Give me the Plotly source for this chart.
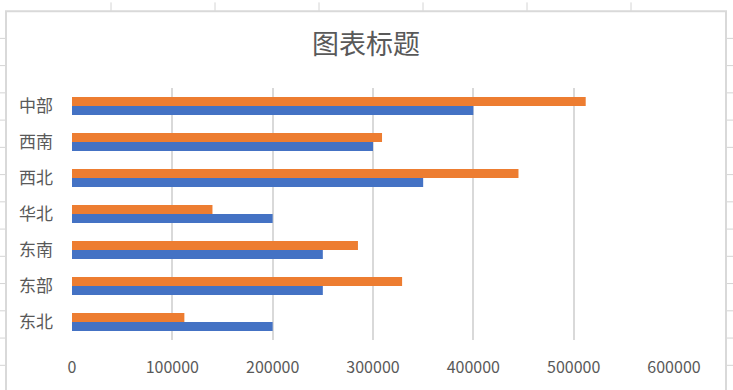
import plotly.graph_objects as go

categories = ["东北", "东部", "东南", "华北", "西北", "西南", "中部"]
series1 = [200000, 250000, 250000, 200000, 350000, 300000, 400000]
series2 = [112000, 329000, 285000, 140000, 445000, 309000, 512000]
x_ticks = [0, 100000, 200000, 300000, 400000, 500000, 600000]
title_text = "图表标题"

W, H = 733, 390
L, R, T, B = 72, 59, 88, 43
PW, PH = W - L - R, H - T - B

def px(x):
    return (x - L) / PW

def py(y):
    return (H - B - y) / PH

font = "Noto Sans CJK SC, Noto Sans, sans-serif"
grey = "#595959"

fig = go.Figure()
fig.add_trace(go.Bar(y=categories, x=series1, orientation="h", name="系列1",
                     marker=dict(color="#4472C4", line=dict(width=0))))
fig.add_trace(go.Bar(y=categories, x=series2, orientation="h", name="系列2",
                     marker=dict(color="#ED7D31", line=dict(width=0))))

shapes = []
cell = "#d4d4d4"
for cx in [111, 215, 319, 423, 527, 631]:
    shapes.append(dict(type="line", xref="paper", yref="paper", layer="below",
                       x0=px(cx), x1=px(cx), y0=py(0), y1=py(9),
                       line=dict(color=cell, width=1)))
for k in range(13):
    ry = 37 + 28 * k
    shapes.append(dict(type="line", xref="paper", yref="paper", layer="below",
                       x0=px(0), x1=px(6), y0=py(ry), y1=py(ry),
                       line=dict(color=cell, width=1)))
    shapes.append(dict(type="line", xref="paper", yref="paper", layer="below",
                       x0=px(726), x1=px(733), y0=py(ry), y1=py(ry),
                       line=dict(color=cell, width=1)))
shapes.append(dict(type="rect", xref="paper", yref="paper", layer="below",
                   x0=px(6), x1=px(726), y0=py(9), y1=py(400),
                   line=dict(color="#d9d9d9", width=2), fillcolor="white"))

fig.update_layout(
    width=W, height=H,
    margin=dict(l=L, r=R, t=T, b=B, pad=0),
    paper_bgcolor="white", plot_bgcolor="rgba(0,0,0,0)",
    barmode="group", bargap=0.5, bargroupgap=0,
    showlegend=False,
    shapes=shapes,
    font=dict(family=font, color=grey, size=16),
    annotations=[dict(text=title_text, xref="paper", yref="paper",
                      x=px(366), y=py(41), showarrow=False,
                      xanchor="center", yanchor="middle",
                      font=dict(family=font, size=27, color=grey))],
    xaxis=dict(range=[0, 600000], tickvals=x_ticks,
               ticktext=[str(v) for v in x_ticks],
               showgrid=True, gridcolor="#d9d9d9", gridwidth=2,
               zeroline=False, showline=False, ticks="",
               ticklabelstandoff=16,
               tickfont=dict(family=font, size=16, color=grey)),
    yaxis=dict(type="category", showgrid=False, zeroline=False,
               showline=False, ticks="", ticklabelstandoff=18,
               tickfont=dict(family=font, size=17, color=grey)),
)

fig.write_html("out.html", config={"displayModeBar": False},
               post_script="document.body.style.margin='0';document.body.style.overflow='hidden';")
